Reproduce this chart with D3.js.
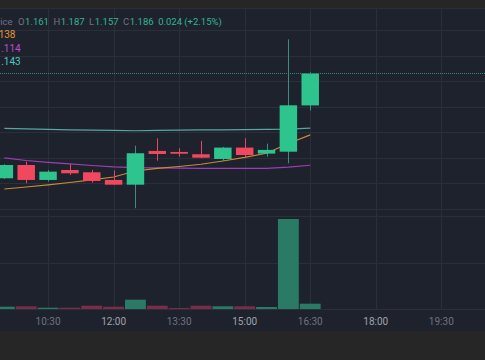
<!DOCTYPE html>
<html>
<head>
<meta charset="utf-8">
<script src="https://cdn.jsdelivr.net/npm/d3@7"></script>
<style>
  html, body { margin: 0; padding: 0; background: #262626; overflow: hidden; }
  svg { display: block; font-family: Roboto, "Liberation Sans", sans-serif; }
</style>
</head>
<body>
<div id="chart"></div>
<script>
// Data (30 minute bars)
const TIMES   = ["09:30", "10:00", "10:30", "11:00", "11:30", "12:00", "12:30", "13:00", "13:30", "14:00", "14:30", "15:00", "15:30", "16:00", "16:30"];
const OPENS   = [1.1040, 1.1144, 1.1027, 1.1105, 1.1087, 1.1027, 1.0990, 1.1254, 1.1246, 1.1228, 1.1191, 1.1280, 1.1233, 1.1248, 1.161];
const HIGHS   = [1.1150, 1.1170, 1.1105, 1.1150, 1.1105, 1.1100, 1.1295, 1.1353, 1.1275, 1.1332, 1.1285, 1.1353, 1.1311, 1.2127, 1.187];
const LOWS    = [1.1035, 1.1001, 1.1014, 1.1066, 1.1006, 1.0988, 1.0806, 1.1178, 1.1209, 1.1197, 1.1175, 1.1197, 1.1209, 1.1157, 1.157];
const CLOSES  = [1.1144, 1.1027, 1.1092, 1.1079, 1.1019, 1.0990, 1.1236, 1.1230, 1.1232, 1.1201, 1.1280, 1.1222, 1.1262, 1.1611, 1.186];
const VOLUMES = [23, 27, 13, 13, 33, 23, 93, 33, 10, 33, 27, 27, 20, 900, 53];

// moving averages
const MA_FAST = [1.0956, 1.0972, 1.0988, 1.1007, 1.1027, 1.1050, 1.1097, 1.1117, 1.1132, 1.1150, 1.1175, 1.1203, 1.1236, 1.1312, 1.1380];
const MA_MID  = [1.1199, 1.1179, 1.1164, 1.1152, 1.1140, 1.1129, 1.1123, 1.1121, 1.1119, 1.1118, 1.1118, 1.1118, 1.1118, 1.1128, 1.1142];
const MA_SLOW = [1.1431, 1.1427, 1.1423, 1.1419, 1.1416, 1.1414, 1.1412, 1.1414, 1.1416, 1.1418, 1.1419, 1.1421, 1.1423, 1.1425, 1.1432];

const TICK_LABELS = ["10:30", "12:00", "13:30", "15:00", "16:30", "18:00", "19:30"];
const PRICE_GRID = [1.08, 1.10, 1.12, 1.14, 1.16, 1.18, 1.20, 1.22];
const CHANGE_TEXT = "0.024 (+2.15%)";

// Constants
const W = 485, H = 360;
const PANE = { top: 8, bottom: 309, axisBottom: 331 };
const COLORS = {
    bg: "#1e222d", outer: "#262626", grid: "#2a2f3a",
    up: "#2ec48e", down: "#f2485f", upWick: "#3f8d80", downWick: "#e04a62",
    upVol: "#2a7a65", downVol: "#7a2d47",
    fast: "#c98a3c", mid: "#9c3fb4", slow: "#55a7a6",
    textDim: "#6e7280", textBright: "#a0a3ab", legendVal: "#35b597"
};

const parseTime = d3.timeParse("%H:%M");
const bars = TIMES.map((t, i) => ({
    date: parseTime(t), open: OPENS[i], high: HIGHS[i], low: LOWS[i], close: CLOSES[i],
    volume: VOLUMES[i], fast: MA_FAST[i], mid: MA_MID[i], slow: MA_SLOW[i]
}));

const svg = d3.select("#chart").append("svg")
    .attr("width", W)
    .attr("height", H);

// backgrounds
svg.append("rect").attr("width", W).attr("height", H).attr("fill", COLORS.outer);
svg.append("rect")
    .attr("y", PANE.top)
    .attr("width", W)
    .attr("height", PANE.axisBottom - PANE.top)
    .attr("fill", COLORS.bg);

// Scales
const x = d3.scaleTime()
    .domain([parseTime("09:24"), parseTime("20:30")])
    .range([0, W]);
const y = d3.scaleLinear()
    .domain([1.0745, 1.2372])
    .range([216, PANE.top]);
const yVol = d3.scaleLinear()
    .domain([0, 930])
    .range([PANE.bottom, 216]);

const step = x(bars[1].date) - x(bars[0].date);
const bodyW = step * 0.8;

// Grid
const grid = svg.append("g").attr("stroke", COLORS.grid).attr("stroke-width", 1);
grid.selectAll(".hline")
    .data(PRICE_GRID)
    .join("line")
    .attr("x1", 0).attr("x2", W)
    .attr("y1", d => Math.round(y(d)) + 0.5)
    .attr("y2", d => Math.round(y(d)) + 0.5);
grid.selectAll(".vline-vol")
    .data([465, 930])
    .join("line")
    .attr("x1", 0).attr("x2", W)
    .attr("y1", d => Math.round(yVol(d)) + 0.5)
    .attr("y2", d => Math.round(yVol(d)) + 0.5);
grid.selectAll(".vline")
    .data(TICK_LABELS)
    .join("line")
    .attr("x1", d => Math.round(x(parseTime(d))) + 0.5)
    .attr("x2", d => Math.round(x(parseTime(d))) + 0.5)
    .attr("y1", PANE.top)
    .attr("y2", PANE.bottom);
// top border + time axis line
grid.append("line").attr("x1", 0).attr("x2", W).attr("y1", PANE.top + 0.5).attr("y2", PANE.top + 0.5);
grid.append("line").attr("x1", 0).attr("x2", W).attr("y1", PANE.bottom + 0.5).attr("y2", PANE.bottom + 0.5);

// Volume bars
svg.append("g")
    .selectAll("rect")
    .data(bars)
    .join("rect")
    .attr("x", d => x(d.date) - step / 2 + 0.5)
    .attr("width", step - 1)
    .attr("y", d => yVol(d.volume))
    .attr("height", d => yVol(0) - yVol(d.volume))
    .attr("fill", d => d.close >= d.open ? COLORS.upVol : COLORS.downVol);

// Moving averages
const maLine = key => d3.line().x(d => x(d.date)).y(d => y(d[key]));
[["slow", COLORS.slow], ["mid", COLORS.mid], ["fast", COLORS.fast]].forEach(([key, color]) => {
    svg.append("path")
        .datum(bars)
        .attr("fill", "none")
        .attr("stroke", color)
        .attr("stroke-width", 1.2)
        .attr("d", maLine(key));
});

// Candles
const candles = svg.append("g")
    .selectAll("g")
    .data(bars)
    .join("g");
candles.append("line")
    .attr("x1", d => Math.round(x(d.date)) + 0.5)
    .attr("x2", d => Math.round(x(d.date)) + 0.5)
    .attr("y1", d => y(d.high))
    .attr("y2", d => y(d.low))
    .attr("stroke", d => d.close >= d.open ? COLORS.upWick : COLORS.downWick)
    .attr("stroke-width", 1);
candles.append("rect")
    .attr("x", d => x(d.date) - bodyW / 2)
    .attr("width", bodyW)
    .attr("y", d => y(Math.max(d.open, d.close)))
    .attr("height", d => Math.max(1.5, Math.abs(y(d.open) - y(d.close))))
    .attr("fill", d => d.close >= d.open ? COLORS.up : COLORS.down);

// Last price line
const last = bars[bars.length - 1];
svg.append("line")
    .attr("x1", 0).attr("x2", W)
    .attr("y1", Math.round(y(last.close)) + 0.5)
    .attr("y2", Math.round(y(last.close)) + 0.5)
    .attr("stroke", "#2f8a80")
    .attr("stroke-dasharray", "1,1")
    .attr("stroke-width", 1);

// Time axis labels
svg.append("g")
    .selectAll("text")
    .data(TICK_LABELS)
    .join("text")
    .attr("x", d => x(parseTime(d)))
    .attr("y", 324.5)
    .attr("text-anchor", "middle")
    .attr("font-size", "10px")
    .attr("fill", d => d.endsWith(":00") ? COLORS.textBright : COLORS.textDim)
    .text(d => d);

// Legend
const fmt = d3.format(".3f");
const legend = svg.append("g").attr("font-size", "9.5px");
legend.append("text")
    .attr("x", 12.5).attr("y", 25.2)
    .attr("text-anchor", "end")
    .attr("fill", COLORS.textDim)
    .text("Price");

let cursor = 18;
[["O", last.open], ["H", last.high], ["L", last.low], ["C", last.close]].forEach(([label, value]) => {
    const t1 = legend.append("text").attr("x", cursor).attr("y", 25.2).attr("fill", COLORS.textDim).text(label);
    cursor += t1.node().getComputedTextLength() + 0.5;
    const t2 = legend.append("text").attr("x", cursor).attr("y", 25.2).attr("fill", COLORS.legendVal).text(fmt(value));
    cursor += t2.node().getComputedTextLength() + 4.5;
});
legend.append("text").attr("x", cursor).attr("y", 25.2).attr("fill", COLORS.legendVal).text(CHANGE_TEXT);

// moving average values (cut at the left edge)
[[last.fast, "#e0953c", 15.5, 37.5], [last.mid, "#c048d4", 20.7, 51.8], [last.slow, "#4fc8c4", 20.7, 65.2]].forEach(([v, c, xEnd, yPos]) => {
    legend.append("text")
        .attr("x", xEnd).attr("y", yPos)
        .attr("text-anchor", "end")
        .attr("font-size", "10px")
        .attr("fill", c)
        .text(fmt(v));
});
</script>
</body>
</html>
